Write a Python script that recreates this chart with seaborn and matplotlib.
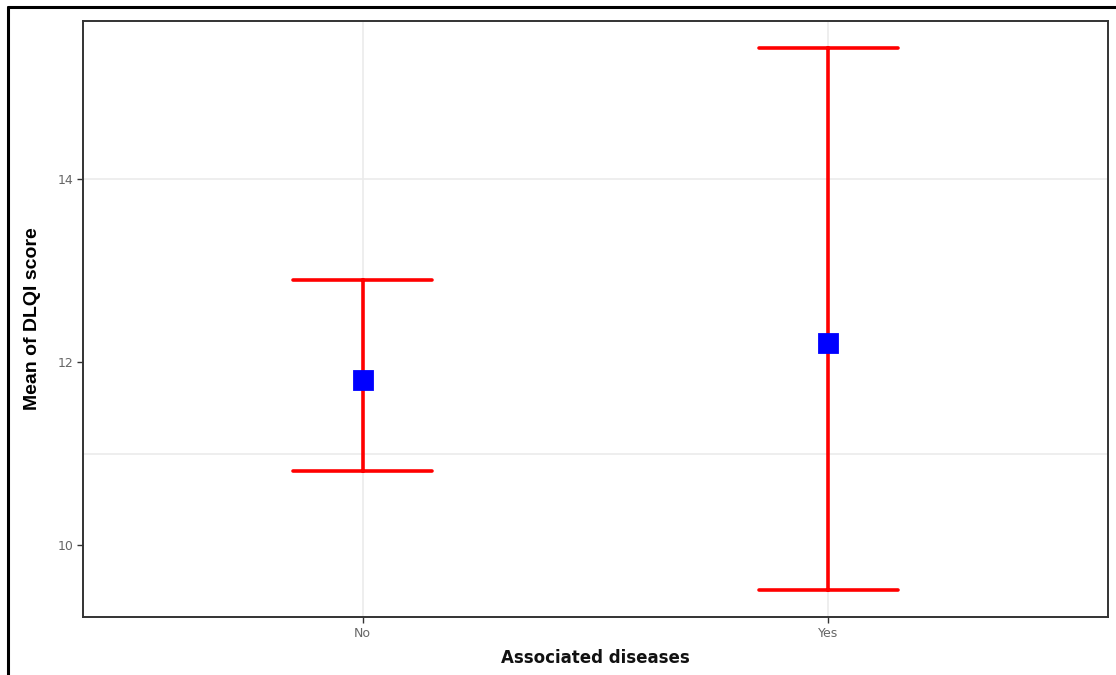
import numpy as np
import pandas as pd
import matplotlib
matplotlib.use("Agg")
import matplotlib.pyplot as plt
from matplotlib.lines import Line2D
import seaborn as sns

# Summary of DLQI score by associated-disease status
groups = ["No", "Yes"]
means = [11.80, 12.21]
lower = [10.81, 9.51]
upper = [12.90, 15.43]

# Long table: each group carries its lower bound, mean and upper bound;
# the median gives the point, the min/max give the interval.
df = pd.DataFrame({
    "group": np.repeat(groups, 3),
    "value": np.ravel(np.column_stack([lower, means, upper])),
})

sns.set_theme(style="white")
plt.rcParams["font.family"] = ["DejaVu Sans"]

fig = plt.figure(figsize=(11.16, 6.75), dpi=100)
ax = fig.add_axes([83 / 1116, 1 - 617 / 675, (1108 - 83) / 1116, (617 - 21) / 675])

sns.pointplot(
    data=df, x="group", y="value", order=groups,
    estimator="median",
    errorbar=lambda v: (v.min(), v.max()),
    capsize=0.3,
    color="#0000FF",
    markers="s", markersize=12.5,
    linestyles="none",
    err_kws={"color": "#FF0000", "linewidth": 2.6, "zorder": 2},
    zorder=4,
    ax=ax,
)

# axis limits with 5% padding on the y range, 0.6 category padding on x
lo, hi = min(lower), max(upper)
pad = 0.05 * (hi - lo)
ax.set_ylim(lo - pad, hi + pad)
ax.set_xlim(-0.6, len(groups) - 1 + 0.6)
ax.set_yticks([10, 12, 14])

# light grid lines
for y in [11, 14]:
    ax.axhline(y, color="#EBEBEB", lw=1.2, zorder=0)
for i in range(len(groups)):
    ax.axvline(i, color="#EBEBEB", lw=1.2, zorder=0)

for s in ax.spines.values():
    s.set_visible(True)
    s.set_color("#333333")
    s.set_linewidth(1.4)

ax.tick_params(axis="both", which="major", length=4, width=1, color="#333333",
               labelsize=9, labelcolor="#666666", pad=3, bottom=True, left=True)

ax.set_xlabel("Associated diseases", fontsize=12, fontweight="bold", color="#111111",
              labelpad=7)
ax.set_ylabel("Mean of DLQI score", fontsize=14, fontweight="bold", color="black",
              labelpad=12, family=["Liberation Sans", "DejaVu Sans"], fontstretch="condensed")

# outer frame of the figure
fx, fy = 8 / 1116, 1 - 7 / 675
fig.add_artist(Line2D([fx, fx], [0, fy], transform=fig.transFigure, color="black", lw=2.2))
fig.add_artist(Line2D([fx, 1], [fy, fy], transform=fig.transFigure, color="black", lw=2.2))

fig.savefig("out.png", dpi=100, facecolor="white")
